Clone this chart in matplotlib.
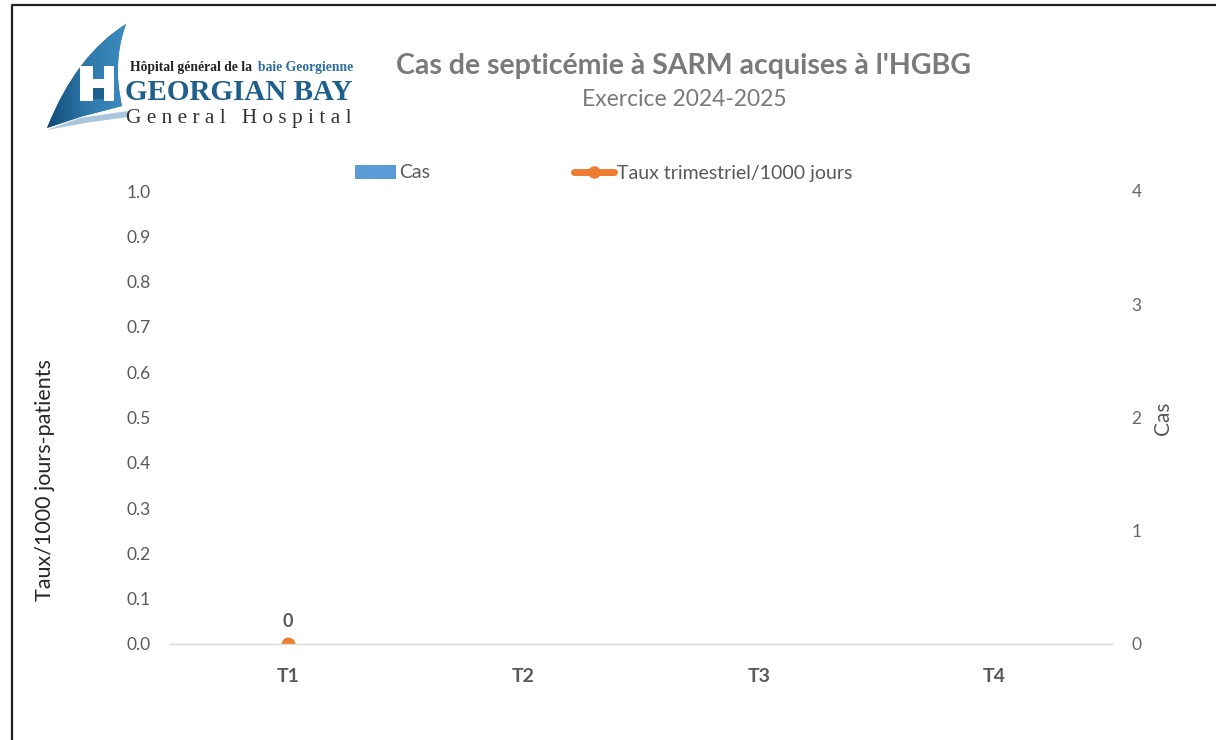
import numpy as np
import matplotlib
matplotlib.use("Agg")
import matplotlib.pyplot as plt
from matplotlib.path import Path
from matplotlib.patches import PathPatch, Rectangle, Patch
from matplotlib.lines import Line2D

# ---- data ----
quarters = ["T1", "T2", "T3", "T4"]
cases = [0, np.nan, np.nan, np.nan]
rates = [0, np.nan, np.nan, np.nan]
rate_ticks = [0.0, 0.1, 0.2, 0.3, 0.4, 0.5, 0.6, 0.7, 0.8, 0.9, 1.0]
case_ticks = [0, 1, 2, 3, 4]
title = "Cas de septicémie à SARM acquises à l'HGBG"
subtitle = "Exercice 2024-2025"

plt.rcParams['font.family'] = ['Lato', 'DejaVu Sans']
GRAY = "#595959"
W, H = 1216, 740
fig = plt.figure(figsize=(W / 100, H / 100), dpi=100)

def fx(px):
    return px / W

def fy(py):
    return 1 - py / H

# overlay axes in pixel coordinates for decorations
ov = fig.add_axes([0, 0, 1, 1], zorder=-5)
ov.set_xlim(0, W)
ov.set_ylim(H, 0)
ov.axis("off")

# border
ov.add_line(Line2D([12, 12, W + 5], [H + 5, 5, 5], color="#222222", lw=1.6))

# ---- logo ----
verts = [(126, 24), (76, 55), (47, 128), (80, 117), (122, 106), (112, 62), (126, 24)]
codes = [Path.MOVETO, Path.CURVE3, Path.CURVE3, Path.LINETO, Path.LINETO, Path.CURVE3, Path.CURVE3]
sail = PathPatch(Path(verts, codes), facecolor="#2a6a98", edgecolor="none")
ov.add_patch(sail)
grad = np.linspace(0, 1, 256).reshape(1, -1)
im = ov.imshow(grad, extent=[47, 126, 130, 24], cmap=matplotlib.colors.LinearSegmentedColormap.from_list(
    "s", ["#0f4a78", "#2f78aa", "#3d8cc0"]), aspect="auto", zorder=2)
im.set_clip_path(sail)
# H
for (x0, y0, w, h) in [(80, 66, 13, 35), (104, 66, 10, 35), (80, 79, 34, 9)]:
    ov.add_patch(Rectangle((x0, y0), w, h, facecolor="white", edgecolor="none", zorder=3))
ov.add_patch(Rectangle((93, 88), 11, 11, facecolor="#1f5f8b", edgecolor="none", zorder=3))
# swoosh
sw = [(47, 130), (80, 118), (128, 111), (128, 117), (85, 123), (47, 130)]
ov.add_patch(PathPatch(Path(sw), facecolor="#a9c6de", edgecolor="none", zorder=3))

ov.text(130, 68, "Hôpital général de la", fontsize=9.8, fontweight="bold", family="Liberation Serif",
        color="#222222", ha="left", va="center")
ov.text(353, 68, "baie Georgienne", fontsize=9.8, fontweight="bold", family="Liberation Serif",
        color="#2e6da4", ha="right", va="center")
ov.text(239, 93, "GEORGIAN BAY", fontsize=21, fontweight="bold", family="Liberation Serif",
        color="#1f5f8b", ha="center", va="center")
ov.text(238.5, 119, "G e n e r a l   H o s p i t a l", fontsize=15.3, family="Liberation Serif",
        color="#333333", ha="center", va="center")

# ---- titles ----
fig.text(fx(683), fy(66), title, fontsize=20.5, fontweight="bold", color="#7a7a7a", ha="center", va="center")
fig.text(fx(684), fy(100), subtitle, fontsize=16.5, color="#7a7a7a", ha="center", va="center")

# ---- main axes ----
ax = fig.add_axes([fx(170), fy(644), fx(1112) - fx(170), (644 - 191) / H])
ax2 = ax.twinx()
ax.set_zorder(ax2.get_zorder() + 1)
ax.patch.set_visible(False)

x = np.arange(len(quarters))
ax2.bar(x, cases, width=0.5, color="#5b9bd5", label="Cas")
ax.plot(x, rates, color="#ed7d31", lw=3, marker="o", ms=9, label="Taux trimestriel/1000 jours")
for xi, r in zip(x, rates):
    if not np.isnan(r):
        ax.annotate(f"{r:g}", (xi, r), xytext=(0, 16), textcoords="offset points",
                    ha="center", va="center", fontsize=13, fontweight="bold", color=GRAY)

ax.set_xlim(-0.5, len(quarters) - 0.5)
ax.set_ylim(0, 1)
ax2.set_ylim(0, 4)
ax.set_yticks(rate_ticks)
ax.set_yticklabels([f"{t:.1f}" for t in rate_ticks])
ax2.set_yticks(case_ticks)
ax.set_xticks(x)
ax.set_xticklabels(quarters, fontweight="bold", fontsize=14, color=GRAY)

for a in (ax, ax2):
    for s in a.spines.values():
        s.set_visible(False)
ax.spines["bottom"].set_visible(True)
ax.spines["bottom"].set_color("#d9d9d9")
ax.spines["bottom"].set_linewidth(1)
ax.tick_params(axis="y", length=0, pad=14, labelsize=12.5, labelcolor=GRAY)
ax.tick_params(axis="x", length=0, pad=17)
ax2.tick_params(axis="y", length=0, pad=14, labelsize=12.5, labelcolor="#666666")

fig.text(fx(45), fy(480), "Taux/1000 jours-patients", rotation=90, fontsize=15.5, color="#262626",
         ha="center", va="center")
fig.text(fx(1163), fy(418), "Cas", rotation=90, fontsize=15, color=GRAY, ha="center", va="center")

handles = [Patch(facecolor="#5b9bd5", edgecolor="none", label="Cas"),
           Line2D([], [], color="#ed7d31", lw=5, marker="o", ms=8, solid_capstyle="round",
                  label="Taux trimestriel/1000 jours")]
fig.legend(handles=handles, loc="center left", bbox_to_anchor=(fx(355), fy(173)), ncol=2,
           frameon=False, fontsize=14, labelcolor=GRAY, handlelength=2.1, handletextpad=0.15,
           columnspacing=7.4, borderpad=0, borderaxespad=0)

fig.savefig("out.png", dpi=100)
